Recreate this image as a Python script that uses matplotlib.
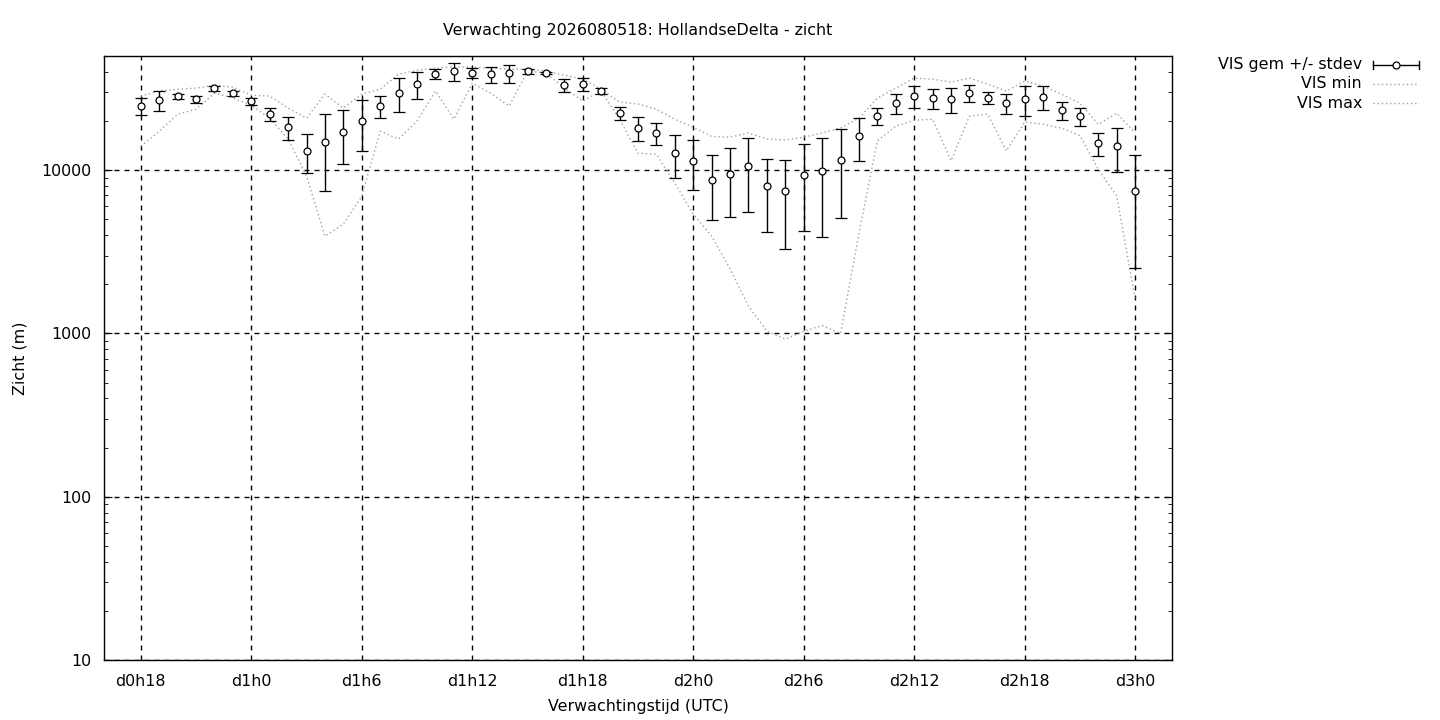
"""Verwachting zicht: gemiddelde +/- stdev met min en max, log-schaal."""

import matplotlib

matplotlib.use("Agg")
import matplotlib.pyplot as plt
from matplotlib.lines import Line2D
from matplotlib.ticker import FixedLocator, FuncFormatter, LogLocator, NullFormatter

# Verwachtingsuren t.o.v. d0h0
hours = list(range(18, 73))

vis_mean = [
    24700, 26800, 28400, 27200, 31800, 29600, 26500, 22000, 18300, 13100,
    14800, 17100, 20000, 24700, 29600, 33600, 38700, 40400, 39300, 38700,
    39300, 40400, 39300, 33100, 33600, 30500, 22300, 18100, 16900, 12700,
    11400, 8690, 9450, 10600, 7980, 7440, 9320, 9860, 11500, 16100,
    21400, 25700, 28400, 27600, 27200, 29600, 27600, 25700, 27200, 28000,
    23300, 21400, 14600, 14000, 7440,
]
vis_std = [
    2800, 3750, 1000, 1300, 1100, 1050, 1300, 2000, 2900, 3500,
    7400, 6150, 6850, 3800, 6950, 6300, 2650, 5100, 2800, 4350,
    4950, 1400, 500, 3050, 3050, 1300, 1950, 3000, 2600, 3770,
    3875, 3730, 4280, 5085, 3800, 4130, 5085, 5980, 6400, 4700,
    2550, 3600, 4400, 4000, 4750, 3500, 2300, 3600, 5700, 4700,
    3000, 2700, 2350, 4200, 4930,
]
vis_min = [
    14000, 17300, 22000, 23600, 29600, 27600, 25000, 20800, 15500, 9190,
    3940, 4670, 6930, 17300, 15500, 20000, 30500, 20500, 34100, 29600,
    24700, 40400, 39300, 31800, 26500, 30500, 20500, 12700, 12500, 8320,
    5380, 3940, 2480, 1470, 1030, 923, 1030, 1120, 1000, 4110,
    15100, 18600, 20200, 20500, 11400, 21400, 22000, 13100, 19700, 19100,
    18100, 16300, 10100, 6930, 1620,
]
vis_max = [
    28400, 30500, 31300, 31800, 33100, 32200, 28800, 28400, 24000, 20800,
    29200, 24000, 29200, 31300, 38700, 40900, 42200, 42800, 42800, 42200,
    41500, 41500, 40400, 38200, 36100, 31300, 26100, 25400, 23600, 20500,
    18300, 16100, 15900, 16900, 15500, 15300, 15900, 16900, 18100, 20800,
    27600, 31800, 36600, 36100, 34600, 36600, 33600, 30500, 35100, 32700,
    29200, 25700, 19100, 22300, 16900,
]

labels = ["VIS gem +/- stdev", "VIS min", "VIS max"]
label_hours = [18, 24, 30, 36, 42, 48, 54, 60, 66, 72]


def hour_label(h, pos=None):
    """Zet een uur om naar dXhY."""
    h = int(round(h))
    return f"d{h // 24}h{h % 24}"


def main():
    plt.rcParams["font.family"] = "DejaVu Sans"
    fs = 11.4
    fig = plt.figure(figsize=(14.4, 7.2), dpi=100)
    ax = fig.add_axes([104 / 1440, 60 / 720, 1068 / 1440, 604 / 720])

    grey = "#a0a0a0"
    ax.plot(hours, vis_min, color=grey, lw=1, ls=(0, (1, 2)))
    ax.plot(hours, vis_max, color=grey, lw=1, ls=(0, (1, 2)))
    ax.errorbar(
        hours, vis_mean, yerr=vis_std, fmt="o", color="black",
        mfc="white", mec="black", ms=5, mew=0.9, elinewidth=1,
        capsize=4, capthick=1, zorder=5,
    )

    ax.set_yscale("log")
    ax.set_ylim(10, 50000)
    ax.set_xlim(16, 74)

    ax.xaxis.set_major_locator(FixedLocator(label_hours))
    ax.xaxis.set_major_formatter(FuncFormatter(hour_label))
    ax.yaxis.set_major_locator(FixedLocator([10, 100, 1000, 10000]))
    ax.yaxis.set_major_formatter(FuncFormatter(lambda v, p: f"{int(v)}"))
    ax.yaxis.set_minor_locator(LogLocator(base=10, subs=range(2, 10)))
    ax.yaxis.set_minor_formatter(NullFormatter())

    ax.grid(True, which="major", color="black", lw=1, ls=(0, (3.6, 3.6)))
    ax.tick_params(axis="x", which="both", length=0, pad=10, labelsize=fs)
    ax.tick_params(axis="y", which="major", direction="in", length=6,
                   right=True, labelsize=fs, pad=9)
    ax.tick_params(axis="y", which="minor", direction="in", length=3, right=True)
    for s in ax.spines.values():
        s.set_linewidth(1)

    ax.set_title("Verwachting 2026080518: HollandseDelta - zicht",
                 fontsize=fs, pad=15)
    ax.set_xlabel("Verwachtingstijd (UTC)", fontsize=fs, labelpad=7)
    ax.set_ylabel("Zicht (m)", fontsize=fs, labelpad=10)

    # Legenda rechts buiten de grafiek, tekst rechts uitgelijnd
    rows_y = [65, 84, 103]
    for i, (lab, ypix) in enumerate(zip(labels, rows_y)):
        yf = 1 - ypix / 720
        fig.text(1362 / 1440, yf, lab, ha="right", va="center", fontsize=fs)
        x0, x1 = 1373 / 1440, 1419 / 1440
        if i == 0:
            fig.add_artist(Line2D([x0, x1], [yf, yf], color="black", lw=1))
            cap = 4 / 720
            for xc in (x0, x1):
                fig.add_artist(Line2D([xc, xc], [yf - cap, yf + cap],
                                      color="black", lw=1))
            fig.add_artist(Line2D([(x0 + x1) / 2], [yf], marker="o", ms=5,
                                  mfc="white", mec="black", mew=0.9, lw=0))
        else:
            fig.add_artist(Line2D([x0, x1], [yf, yf], color=grey, lw=1,
                                  ls=(0, (1, 2))))

    fig.savefig("out.png", dpi=100)


if __name__ == "__main__":
    main()
